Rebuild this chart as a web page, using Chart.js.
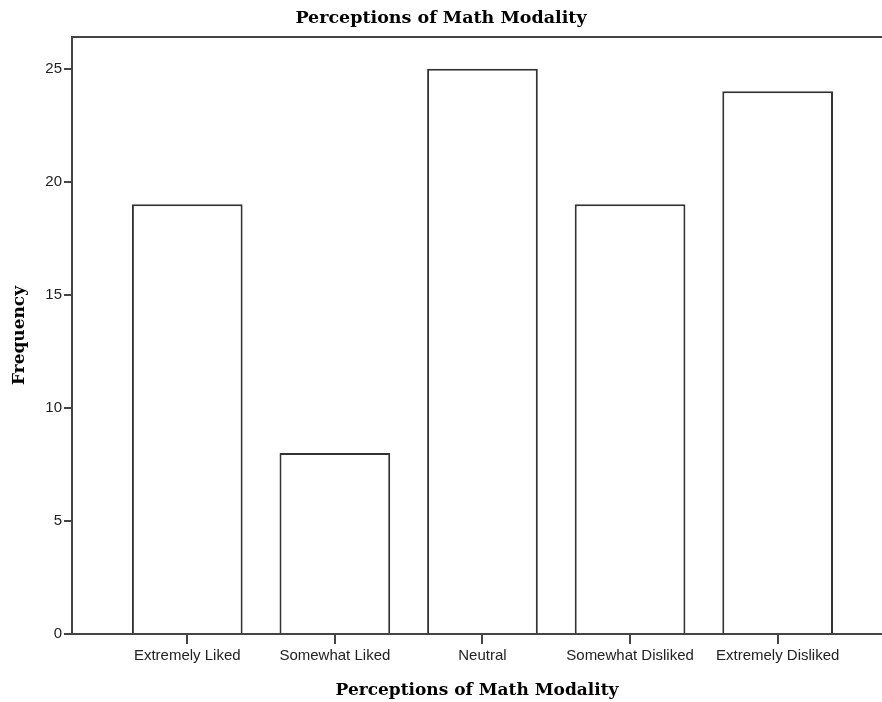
<!DOCTYPE html>
<html lang="en">
<head>
    <meta charset="UTF-8">
    <title>Perceptions of Math Modality</title>
    <script src="https://cdn.jsdelivr.net/npm/chart.js"></script>
    <style>
        body {
            margin: 0;
            padding: 0;
            background: #fff;
        }
        #wrap {
            width: 882px;
            height: 702px;
        }
    </style>
</head>
<body>
<div id="wrap"><canvas id="modalityChart"></canvas></div>

<script>
    const categories = ['Extremely Liked', 'Somewhat Liked', 'Neutral', 'Somewhat Disliked', 'Extremely Disliked'];
    const frequencies = [19, 8, 25, 19, 24];
    const yTicks = [0, 5, 10, 15, 20, 25];

    const serif = 'DejaVu Serif';
    const sans = 'Liberation Sans';
    const lineColor = '#444';
    const textColor = '#222';

    const ctx = document.getElementById('modalityChart').getContext('2d');
    const chart = new Chart(ctx, {
        type: 'bar',
        data: {
            datasets: [{
                label: 'Frequency',
                data: frequencies.map((v, i) => ({ x: i, y: v })),
                backgroundColor: '#fff',
                borderColor: '#333',
                borderWidth: 2,
                categoryPercentage: 1,
                barPercentage: 0.75
            }]
        },
        options: {
            responsive: true,
            maintainAspectRatio: false,
            animation: false,
            layout: { padding: 0 },
            plugins: {
                legend: { display: false },
                tooltip: { enabled: false },
                title: {
                    display: true,
                    text: 'Perceptions of Math Modality',
                    color: '#000',
                    font: { family: serif, size: 17.5, weight: 'bold' },
                    padding: { top: 8, bottom: 6 }
                }
            },
            scales: {
                x: {
                    type: 'linear',
                    position: 'bottom',
                    min: -0.781,
                    max: 4.707,
                    offset: false,
                    afterBuildTicks: (scale) => {
                        scale.ticks = categories.map((c, i) => ({ value: i }));
                    },
                    afterFit: (scale) => { scale.height = 68; },
                    ticks: {
                        color: textColor,
                        font: { family: sans, size: 15 },
                        padding: 3,
                        maxRotation: 0,
                        autoSkip: false,
                        callback: (value) => categories[value] ?? ''
                    },
                    grid: {
                        offset: false,
                        drawOnChartArea: false,
                        tickLength: 10,
                        color: lineColor,
                        lineWidth: 2
                    },
                    border: { color: lineColor, width: 2 },
                    title: {
                        display: true,
                        text: 'Perceptions of Math Modality',
                        color: '#000',
                        font: { family: serif, size: 17, weight: 'bold' },
                        padding: { top: 0, bottom: 1 }
                    }
                },
                xTop: {
                    type: 'linear',
                    position: 'top',
                    min: 0,
                    max: 1,
                    afterFit: (scale) => { scale.height = 2; },
                    ticks: { display: false },
                    grid: { display: false, drawTicks: false },
                    border: { display: true, color: lineColor, width: 2 }
                },
                y: {
                    min: 0,
                    max: 26.4,
                    afterBuildTicks: (scale) => {
                        scale.ticks = yTicks.map(v => ({ value: v }));
                    },
                    afterFit: (scale) => { scale.width = 72; },
                    ticks: {
                        color: textColor,
                        font: { family: sans, size: 15 },
                        padding: 2
                    },
                    grid: {
                        drawOnChartArea: false,
                        tickLength: 8,
                        color: lineColor,
                        lineWidth: 2
                    },
                    border: { color: lineColor, width: 2 },
                    title: {
                        display: true,
                        text: 'Frequency',
                        color: '#000',
                        font: { family: serif, size: 17, weight: 'bold' },
                        padding: { top: 9, bottom: 0 }
                    }
                }
            }
        }
    });
</script>
</body>
</html>
